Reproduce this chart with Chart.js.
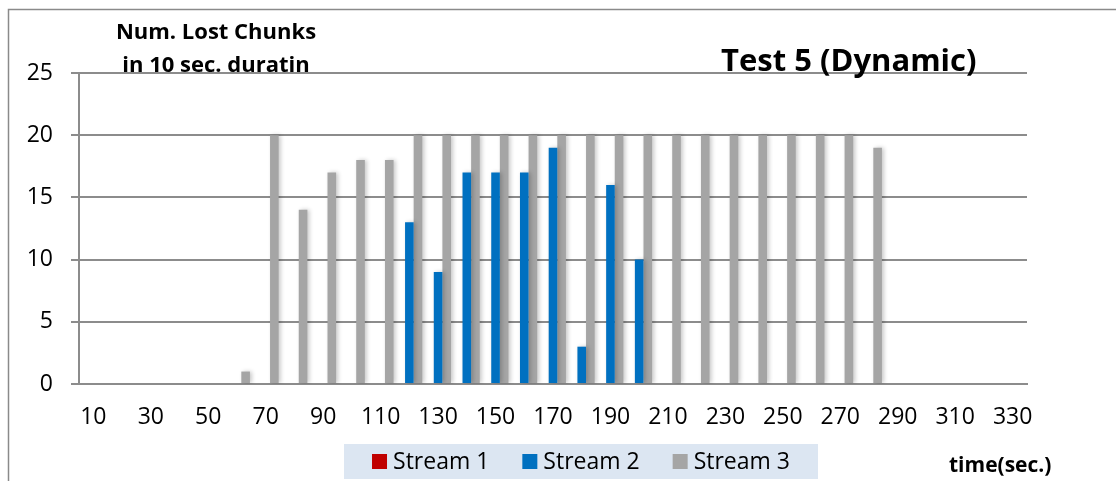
<!DOCTYPE html>
<html>
<head>
<meta charset="utf-8">
<script src="https://cdn.jsdelivr.net/npm/chart.js@4.4.1/dist/chart.umd.min.js"></script>
<style>
  html, body { margin: 0; padding: 0; background: #fff; }
  #wrap { width: 1116px; height: 481px; }
</style>
</head>
<body>
<div id="wrap"><canvas id="chart"></canvas></div>
<script>
// time in seconds (one bar group every 10 sec.)
const categories = [10, 20, 30, 40, 50, 60, 70, 80, 90, 100, 110, 120, 130, 140, 150, 160, 170,
                    180, 190, 200, 210, 220, 230, 240, 250, 260, 270, 280, 290, 300, 310, 320, 330];

// lost chunks per stream
const stream1 = [0, 0, 0, 0, 0, 0, 0, 0, 0, 0, 0, 0, 0, 0, 0, 0, 0,
                 0, 0, 0, 0, 0, 0, 0, 0, 0, 0, 0, 0, 0, 0, 0, 0];
const stream2 = [0, 0, 0, 0, 0, 0, 0, 0, 0, 0, 0, 13, 9, 17, 17, 17, 19,
                 3, 16, 10, 0, 0, 0, 0, 0, 0, 0, 0, 0, 0, 0, 0, 0];
const stream3 = [0, 0, 0, 0, 0, 1, 20, 14, 17, 18, 18, 20, 20, 20, 20, 20, 20,
                 20, 20, 20, 20, 20, 20, 20, 20, 20, 20, 19, 0, 0, 0, 0, 0];

const seriesNames = ['Stream 1', 'Stream 2', 'Stream 3'];
const seriesColors = ['#c00000', '#0070c0', '#a5a5a5'];

const chartTitle = 'Test 5 (Dynamic)';
const yTitle = ['Num. Lost Chunks', 'in 10 sec. duratin'];
const xTitle = 'time(sec.)';

const FONT = "'Open Sans', 'DejaVu Sans', sans-serif";
const GRID = '#8c8c8c';

// frame, titles and the legend box are drawn by hand (Excel-like layout)
const decorations = {
    id: 'decorations',
    beforeDraw: chart => {
        const ctx = chart.ctx;
        ctx.save();
        ctx.strokeStyle = '#8a8a8a';
        ctx.lineWidth = 1.5;
        ctx.beginPath();
        ctx.moveTo(8.5, chart.height + 5);
        ctx.lineTo(8.5, 9.5);
        ctx.lineTo(chart.width + 5, 9.5);
        ctx.stroke();
        ctx.restore();
    },
    beforeDatasetsDraw: chart => {
        const ctx = chart.ctx;
        ctx.save();
        ctx.shadowColor = 'rgba(0, 0, 0, 0.22)';
        ctx.shadowBlur = 4;
        ctx.shadowOffsetX = 2;
        ctx.shadowOffsetY = 0;
    },
    afterDatasetsDraw: chart => {
        chart.ctx.restore();
    },
    afterDraw: chart => {
        const ctx = chart.ctx;
        const ca = chart.chartArea;
        ctx.save();
        ctx.fillStyle = '#000';

        // y axis title, two lines, top-left
        ctx.font = `bold 22px ${FONT}`;
        ctx.textAlign = 'center';
        ctx.textBaseline = 'alphabetic';
        ctx.fillText(yTitle[0], ca.left + 137, 39);
        ctx.fillText(yTitle[1], ca.left + 137, 72);

        // chart title
        ctx.font = `bold 31px ${FONT}`;
        ctx.textAlign = 'left';
        ctx.fillText(chartTitle, ca.right - 306, 71);

        // x axis title
        ctx.font = `bold 21px ${FONT}`;
        ctx.fillText(xTitle, ca.right - 78, 472);

        // legend
        const boxL = ca.left + 265, boxR = ca.left + 739, boxT = 444, boxB = 479;
        ctx.fillStyle = '#dce6f2';
        ctx.fillRect(boxL, boxT, boxR - boxL, boxB - boxT);

        ctx.font = `23px ${FONT}`;
        ctx.textBaseline = 'middle';
        const sq = 15, gapText = 6, gapItem = 33;
        const widths = chart.data.datasets.map(d => ctx.measureText(d.label).width);
        const total = widths.reduce((a, w) => a + sq + gapText + w, 0) + gapItem * (widths.length - 1);
        let x = (boxL + boxR) / 2 - total / 2;
        const cy = (boxT + boxB) / 2;
        chart.data.datasets.forEach((d, i) => {
            ctx.fillStyle = d.backgroundColor;
            ctx.fillRect(x, cy - sq / 2, sq, sq);
            ctx.fillStyle = '#000';
            ctx.fillText(d.label, x + sq + gapText, cy + 1);
            x += sq + gapText + widths[i] + gapItem;
        });
        ctx.restore();
    }
};

const ctx = document.getElementById('chart').getContext('2d');
new Chart(ctx, {
    type: 'bar',
    data: {
        labels: categories,
        datasets: [stream1, stream2, stream3].map((values, i) => ({
            label: seriesNames[i],
            data: values,
            backgroundColor: seriesColors[i],
            borderWidth: 0,
            categoryPercentage: 0.9,
            barPercentage: 1.0
        }))
    },
    plugins: [decorations],
    options: {
        responsive: true,
        maintainAspectRatio: false,
        animation: false,
        layout: {
            padding: { left: 0, top: 73, right: 89, bottom: 0 }
        },
        plugins: {
            legend: { display: false },
            title: { display: false },
            tooltip: { enabled: false }
        },
        scales: {
            x: {
                afterFit: scale => { scale.height = 97; },
                grid: { display: false, drawTicks: false },
                border: { display: true, color: GRID, width: 2 },
                ticks: {
                    autoSkip: false,
                    maxRotation: 0,
                    padding: 20,
                    color: '#000',
                    font: { family: FONT, size: 23 },
                    callback: function (value, index) {
                        return index % 2 === 0 ? this.getLabelForValue(value) : '';
                    }
                }
            },
            y: {
                min: 0,
                max: 25,
                afterFit: scale => { scale.width = 79; },
                grid: { color: GRID, lineWidth: 2, tickLength: 8, drawTicks: true },
                border: { display: true, color: GRID, width: 2 },
                ticks: {
                    stepSize: 5,
                    padding: 18,
                    color: '#000',
                    font: { family: FONT, size: 23 }
                }
            }
        }
    }
});
</script>
</body>
</html>
